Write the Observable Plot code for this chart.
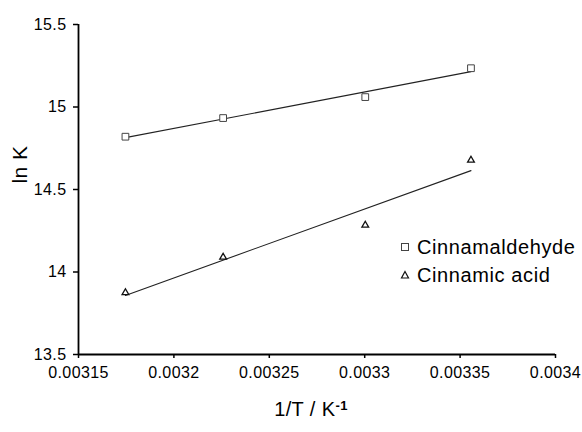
<!DOCTYPE html>
<html><head><meta charset="utf-8">
<script src="https://cdn.jsdelivr.net/npm/d3@7"></script>
<script src="https://cdn.jsdelivr.net/npm/@observablehq/plot@0.6"></script>
<style>
body{margin:0;background:#fff;}
#wrap{position:relative;width:582px;height:432px;font-family:"Liberation Sans",Arial,sans-serif;}
#legend{position:absolute;left:399px;top:233px;font-size:20px;letter-spacing:0.6px;color:#000;}
#legend .row{display:flex;align-items:center;height:28px;}
#legend svg{width:12px;height:12px;margin-right:6px;}
</style></head><body><div id="wrap"></div>
<script>
const invT = [0.0031746, 0.0032258, 0.0033003, 0.0033557];
const lnK_aldehyde = [14.82, 14.933, 15.06, 15.235];
const lnK_acid = [13.875, 14.09, 14.284, 14.678];
const seriesNames = ["Cinnamaldehyde", "Cinnamic acid"];
const xTicks = [0.00315, 0.0032, 0.00325, 0.0033, 0.00335, 0.0034];
const xTickLabels = ["0.00315", "0.0032", "0.00325", "0.0033", "0.00335", "0.0034"];
const yTicks = [13.5, 14, 14.5, 15, 15.5];
const yTickLabels = ["13.5", "14", "14.5", "15", "15.5"];
const xTitle = "1/T / K";
const xTitleSup = "-1";
const yTitle = "ln K";

const ald = invT.map((x, i) => ({x, y: lnK_aldehyde[i], series: seriesNames[0]}));
const acid = invT.map((x, i) => ({x, y: lnK_acid[i], series: seriesNames[1]}));
const data = ald.concat(acid);

const chart = Plot.plot({
  width: 582, height: 432,
  marginLeft: 78, marginRight: 27, marginTop: 24, marginBottom: 78,
  x: {domain: [xTicks[0], xTicks[xTicks.length - 1]]},
  y: {domain: [yTicks[0], yTicks[yTicks.length - 1]]},
  style: {fontFamily: '"Liberation Sans", Arial, sans-serif', fontSize: "16px", letterSpacing: "0.4px", background: "white", color: "black"},
  marks: [
    Plot.axisX({ticks: xTicks, tickFormat: d => xTickLabels[xTicks.indexOf(d)], tickSize: 4, tickPadding: 8, label: null, fontSize: 16, strokeWidth: 1.5}),
    Plot.axisY({ticks: yTicks, tickFormat: d => yTickLabels[yTicks.indexOf(d)], tickSize: 5, tickPadding: 7, label: null, fontSize: 16, strokeWidth: 1.5}),
    Plot.ruleX([xTicks[0]], {stroke: "black", strokeWidth: 1.8}),
    Plot.ruleY([yTicks[0]], {stroke: "black", strokeWidth: 1.8}),
    Plot.linearRegressionY(data, {x: "x", y: "y", z: "series", stroke: "#222", strokeWidth: 1.1, ci: 0}),
    Plot.dot(ald, {x: "x", y: "y", symbol: "square", r: 3.8, stroke: "#444", strokeWidth: 1, fill: "white"}),
    Plot.dot(acid, {x: "x", y: "y", symbol: "triangle", r: 2.5, stroke: "#111", strokeWidth: 1.3, fill: "white"}),
    Plot.text([yTitle], {frameAnchor: "left", rotate: -90, dx: -58, dy: -6, fontSize: 21, lineAnchor: "middle"}),
    Plot.text([xTitle], {frameAnchor: "bottom", dy: 55, dx: -6, fontSize: 20, lineAnchor: "middle"})
  ]
});
// add superscript to x title
d3.select(chart).selectAll("text").filter(function(){ return this.textContent === xTitle; })
  .append("tspan").attr("dy", "-0.45em").attr("font-size", "13px").attr("font-weight", "bold").text(xTitleSup);

const wrap = document.getElementById("wrap");
wrap.appendChild(chart);

const legend = document.createElement("div");
legend.id = "legend";
legend.innerHTML =
  `<div class="row"><svg viewBox="0 0 12 12"><rect x="2.5" y="2.5" width="7" height="7" fill="white" stroke="#444" stroke-width="1"/></svg><span>${seriesNames[0]}</span></div>` +
  `<div class="row"><svg viewBox="0 0 12 12"><path d="M6 2.5 L9.5 9 L2.5 9 Z" fill="white" stroke="#111" stroke-width="1.2"/></svg><span>${seriesNames[1]}</span></div>`;
wrap.appendChild(legend);
</script></body></html>
